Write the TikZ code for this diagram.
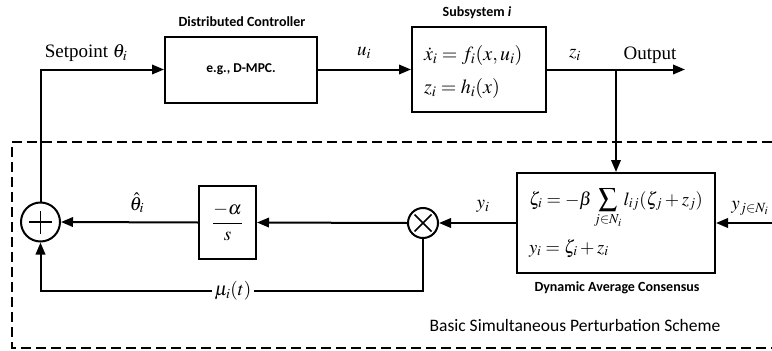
\documentclass[tikz,border=0pt]{standalone}
\usepackage{mathptmx}
\usepackage[no-math]{fontspec}
\setmainfont{Liberation Serif}
\newfontfamily\calfont{Carlito}
\usetikzlibrary{arrows.meta}
\begin{document}
\begin{tikzpicture}[x=1pt,y=-1pt,
  line width=2pt,
  >={Triangle[length=12pt,width=9.5pt]},
  blk/.style={draw, line width=2pt, inner sep=2pt, fill=white},
  ttl/.style={font=\calfont\bfseries\fontsize{14}{16}\selectfont},
  lbl/.style={font=\fontsize{19}{22}\selectfont, inner sep=1pt},
  eq/.style={anchor=base west, inner sep=0pt},
  junc/.style={draw, circle, line width=2pt, inner sep=0pt}]
\useasboundingbox (0,0) rectangle (772,351);

% dashed region
\draw[line width=1.1pt, dash pattern=on 10pt off 5pt] (772,142) -- (12,142) -- (12,348) -- (772,348);

% blocks
\node[blk, minimum width=152, minimum height=66, font=\calfont\bfseries\fontsize{13.5}{15}\selectfont] (dc) at (241,69.5) {e.g., D-MPC.};
\node[ttl] (dct) at (242,22) {Distributed Controller};

\node[blk, minimum width=134, minimum height=85] (sub) at (479,69.5) {};
\node[eq, font=\fontsize{20}{24}\selectfont] (sube1) at (423,60) {$\dot{x}_i = f_i(x,u_i)$};
\node[eq, font=\fontsize{20}{24}\selectfont] (sube2) at (423,93) {$z_i = h_i(x)$};
\node[ttl] (subt) at (477,13) {Subsystem \textit{i}};

\node[blk, minimum width=198, minimum height=100] (dac) at (616,223) {};
\node[eq, font=\fontsize{18.5}{24}\selectfont] (dace1) at (528,205) {$\displaystyle\zeta_i = -\beta\sum_{j\in N_i} l_{ij}(\zeta_j+z_j)$};
\node[eq, font=\fontsize{18.5}{24}\selectfont] (dace2) at (528,253) {$y_i = \zeta_i + z_i$};
\node[ttl] (dact) at (617,288) {Dynamic Average Consensus};

\node[blk, minimum width=57, minimum height=73, font=\fontsize{19}{22}\selectfont] (ab) at (227.5,222.5) {$\displaystyle\frac{-\alpha}{s}$};

\node[junc, minimum size=39] (sum) at (40.5,222) {};
\draw[line width=1.8pt] ([xshift=-11.5pt]sum.center) -- ([xshift=11.5pt]sum.center)
                         ([yshift=-11.5pt]sum.center) -- ([yshift=11.5pt]sum.center);
\node[junc, minimum size=30] (mul) at (423,223) {};
\draw[line width=1.6pt] ([shift={(-8.5,-8.5)}]mul.center) -- ([shift={(8.5,8.5)}]mul.center)
                         ([shift={(-8.5,8.5)}]mul.center) -- ([shift={(8.5,-8.5)}]mul.center);

\node[font=\calfont\fontsize{17.5}{20}\selectfont] (bsp) at (575,325) {Basic Simultaneous Perturbation Scheme};

% coordinates
\coordinate (out) at (685,69.5);
\coordinate (br) at (616,69.5);
\coordinate (yin) at (772,223);

% connectors
\draw[->] (sum.north) |- (dc.west);
\draw[->] (dc.east) -- (sub.west);
\draw[->] (sub.east) -- (out);
\draw[->] (br) -- (dac.north);
\draw[->] (yin) -- (dac.east);
\draw[->] (dac.west) -- (mul.east);
\draw[->] (mul.west) -- (ab.east);
\draw[->] (ab.west) -- (sum.east);
\draw[->] (mul.south) -- (mul.south |- 0,291) -| (sum.south);

% labels
\node[lbl] (sp) at (86,53) {Setpoint $\theta_i$};
\node[lbl] (ul) at (364,53) {$u_i$};
\node[lbl] (zl) at (575,55) {$z_i$};
\node[lbl] (ol) at (650,55) {Output};
\node[lbl] (yjl) at (750,208) {$y_{j\in N_i}$};
\node[lbl] (yl) at (483,206) {$y_i$};
\node[lbl] (thl) at (137,203) {$\hat{\theta}_i$};
\node[lbl, fill=white, inner xsep=3pt] (mul2) at (233,291) {$\mu_i(t)$};
\end{tikzpicture}
\end{document}
